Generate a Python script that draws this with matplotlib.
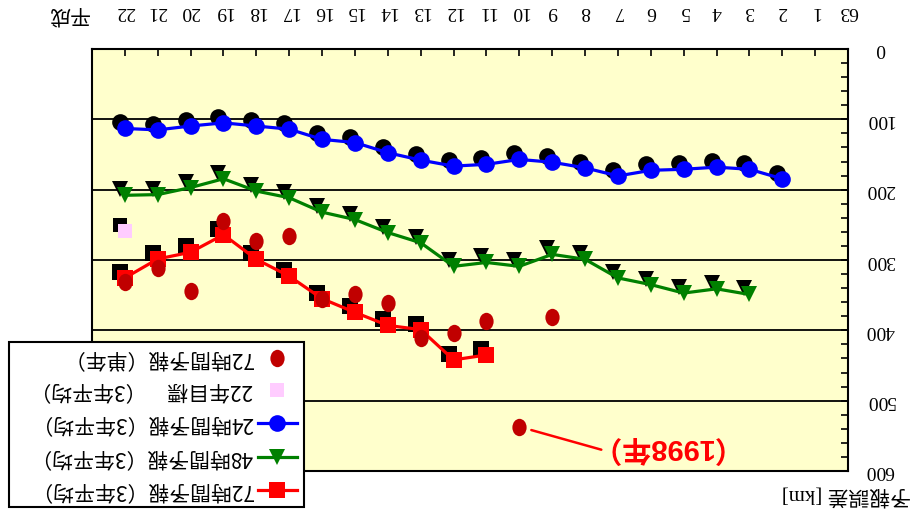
import matplotlib
matplotlib.use("Agg")
import matplotlib.pyplot as plt
import matplotlib.transforms as mtransforms
from matplotlib.ticker import MultipleLocator
from matplotlib.patches import Rectangle
from matplotlib.lines import Line2D
from matplotlib.path import Path
from matplotlib.markers import MarkerStyle

plt.rcParams["font.family"] = ["Liberation Serif", "Noto Sans CJK JP"]

# Year axis: Showa 63, then Heisei 1..22 (position = Heisei year, 63 -> 0)
year_labels = ["63"] + [str(i) for i in range(1, 23)]
era_label = "平成"

# Typhoon track forecast error [km], 3-year running means
err24_years = list(range(2, 23))
err24_mean3 = [184.5, 171, 168, 171, 172.5, 180.5, 169, 161, 157, 164, 166.5,
               158, 147.5, 133, 128.5, 114, 109.5, 105, 109.5, 115, 113]
err48_years = list(range(3, 23))
err48_mean3 = [349, 341, 347, 335, 325.5, 299, 292, 309, 303.5, 309, 275.5,
               261, 242.5, 232, 211.5, 202, 184.5, 197, 207, 208]
err72_years = list(range(11, 23))
err72_mean3 = [435, 442, 399, 393, 374.5, 355, 323, 299, 264, 289, 298.5, 325.5]

# 72-hour forecast error, single years
err72_single_years = list(range(9, 23))
err72_single = [380.5, 537, 387, 404, 411, 361, 349, 355, 266, 273, 245,
                344.5, 311, 331.5]

# Target for Heisei 22 (3-year mean)
target_years = [22]
target_values = [259]

legend_labels = ["72時間予報（単年）", "22年目標　（3年平均）",
                 "24時間予報（3年平均）", "48時間予報（3年平均）",
                 "72時間予報（3年平均）"]
ylabel_text = "予報誤差 [km]"
note_text = "（1998年）"

C_BLUE, C_GREEN, C_RED = "#0000FF", "#008000", "#FF0000"
C_DARKRED, C_PINK, C_BG = "#C00000", "#FFCCFF", "#FFFFCC"

W, H = 920, 518
fig = plt.figure(figsize=(W / 100, H / 100), dpi=100)


def fx(px):
    return px / W


def fy(py):
    return 1 - py / H


ax = fig.add_axes([fx(92), fy(471), fx(848) - fx(92), fy(49) - fy(471)])
ax.set_facecolor(C_BG)
ax.set_xlim(23, 0)
ax.set_ylim(600, 0)

# elliptical marker for the single-year points
_c = Path.unit_circle()
ellipse = MarkerStyle(Path(_c.vertices * [0.82, 1.0], _c.codes))

shadow = mtransforms.offset_copy(ax.transData, fig=fig, x=-5, y=6, units="dots")

# drop shadows under the series markers
for xs, ys, mk, ms in [(err24_years, err24_mean3, "o", 12),
                       (err48_years, err48_mean3, "v", 11),
                       (err72_years, err72_mean3, "s", 12),
                       (target_years, target_values, "s", 10.5)]:
    ax.plot(xs, ys, ls="none", marker=mk, ms=ms, color="black",
            mew=0, transform=shadow, zorder=2)

ax.plot(err24_years, err24_mean3, color=C_BLUE, lw=2.3, marker="o", ms=12,
        mew=0, zorder=3)
ax.plot(err48_years, err48_mean3, color=C_GREEN, lw=2.3, marker="v", ms=11,
        mew=0, zorder=3)
ax.plot(err72_years, err72_mean3, color=C_RED, lw=2.3, marker="s", ms=12,
        mew=0, zorder=3)
ax.plot(target_years, target_values, ls="none", marker="s", ms=10.5,
        color=C_PINK, mew=0, zorder=3)
ax.plot(err72_single_years, err72_single, ls="none", marker=ellipse, ms=12.5,
        color=C_DARKRED, mew=0, zorder=4)

# call-out for the 1998 single-year value
x98, y98 = err72_single_years[1], err72_single[1]
note_pos = mtransforms.offset_copy(ax.transData, fig=fig, x=110, y=-20,
                                   units="dots")
ax.text(x98, y98, note_text, transform=note_pos, rotation=180, ha="center",
        va="center", color=C_RED, fontsize=21, fontweight="bold",
        family=["Liberation Sans", "Noto Sans CJK JP"], zorder=5)
ax.annotate("", xy=(x98, y98), xytext=(82, -23), textcoords="offset pixels",
            arrowprops=dict(arrowstyle="-", color=C_RED, lw=1.8,
                            shrinkA=0, shrinkB=9), zorder=5)

# axes styling
for sp in ax.spines.values():
    sp.set_linewidth(1.5)
    sp.set_color("black")
ax.set_axisbelow(True)
ax.yaxis.grid(True, which="major", color="black", lw=1.3)

ax.xaxis.tick_top()
ax.set_xticks(range(len(year_labels)))
ax.set_xticklabels(year_labels)
ax.tick_params(axis="x", which="both", direction="in", length=5, width=1.2,
               top=True, bottom=False, labeltop=True, labelbottom=False,
               pad=27, labelsize=14, labelrotation=180)
for t in ax.get_xticklabels():
    t.set_va("center")

ax.yaxis.tick_right()
ax.set_yticks(range(0, 601, 100))
ax.yaxis.set_minor_locator(MultipleLocator(20))
ax.tick_params(axis="y", which="both", direction="in", left=False, right=True,
               labelleft=False, labelright=True, width=1.2)
ax.tick_params(axis="y", which="major", length=5, pad=23, labelsize=14,
               labelrotation=180)
ax.tick_params(axis="y", which="minor", length=5)
for t in ax.get_yticklabels():
    t.set_ha("center")
    t.set_va("center")

fig.text(fx(68), fy(14), era_label, rotation=180, ha="center", va="center",
         fontsize=15, family=["Noto Sans CJK JP"])
fig.text(fx(846), fy(494), ylabel_text, rotation=180, ha="center",
         va="center", fontsize=15)

# legend box
fig.add_artist(Rectangle((fx(9), fy(507)), fx(304) - fx(9), fy(342) - fy(507),
                         transform=fig.transFigure, facecolor="white",
                         edgecolor="black", lw=1.5, zorder=10))
rows = [358, 390, 423, 457, 490]
handles = [(None, C_DARKRED, ellipse, 12.5),
           (None, C_PINK, "s", 10.5),
           (C_BLUE, C_BLUE, "o", 12),
           (C_GREEN, C_GREEN, "v", 11),
           (C_RED, C_RED, "s", 12)]
for row, (lc, mc, mk, ms), lab in zip(rows, handles, legend_labels):
    if lc is not None:
        fig.add_artist(Line2D([fx(258), fx(297)], [fy(row)] * 2,
                              transform=fig.transFigure, color=lc, lw=2.3,
                              zorder=11))
    fig.add_artist(Line2D([fx(277)], [fy(row)], transform=fig.transFigure,
                          ls="none", marker=mk, ms=ms, color=mc, mew=0,
                          zorder=12))
    fig.text(fx(253), fy(row), lab, rotation=180, ha="right", va="center",
             fontsize=15, family=["Noto Sans CJK JP"], zorder=12)

fig.savefig("out.png", dpi=100)
